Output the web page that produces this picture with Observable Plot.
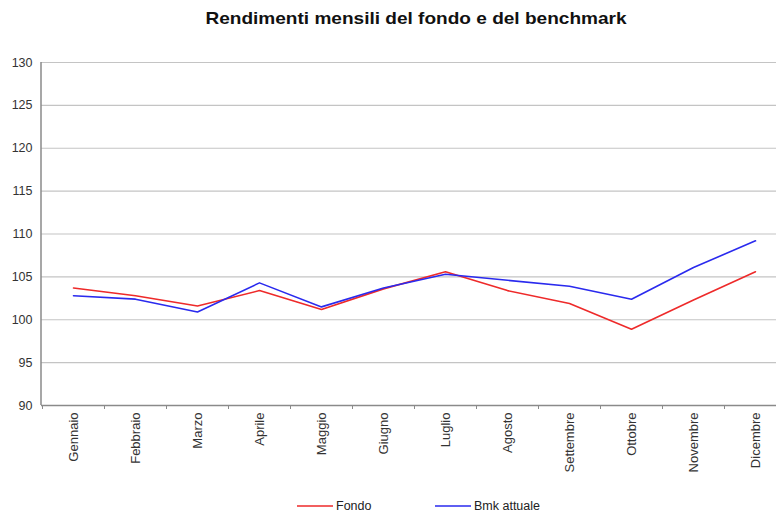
<!DOCTYPE html>
<html><head><meta charset="utf-8">
<script src="https://cdn.jsdelivr.net/npm/d3@7"></script>
<script src="https://cdn.jsdelivr.net/npm/@observablehq/plot@0.6"></script>
<style>
body{margin:0;background:#fff;font-family:"Liberation Sans",Arial,sans-serif;width:776px;height:512px;overflow:hidden;position:relative}
#title{position:absolute;left:216px;top:9px;width:400px;text-align:center;font-weight:bold;font-size:17px;color:#111;transform:scaleX(1.12);transform-origin:center;white-space:nowrap}
#chart{position:absolute;left:0;top:40px}
#legend{position:absolute;left:0;top:499px;width:776px;height:16px;font-size:12.5px;color:#222}
.li{position:absolute;top:0;display:flex;align-items:center}
</style></head><body>
<div id="title">Rendimenti mensili del fondo e del benchmark</div>
<div id="chart"></div>
<div id="legend"></div>
<script>
const months = ["Gennaio","Febbraio","Marzo","Aprile","Maggio","Giugno","Luglio","Agosto","Settembre","Ottobre","Novembre","Dicembre"];
const fondo = [103.7, 102.8, 101.6, 103.4, 101.2, 103.6, 105.6, 103.4, 101.9, 98.9, 102.3, 105.6];
const bmk = [102.8, 102.4, 100.9, 104.3, 101.5, 103.7, 105.3, 104.6, 103.9, 102.4, 106.1, 109.2];
const seriesNames = ["Fondo", "Bmk attuale"];
const seriesColors = ["#ee2a2a", "#2a2aee"];
const yTicks = [90, 95, 100, 105, 110, 115, 120, 125, 130];

const rows = [];
months.forEach((m, i) => {
  rows.push({month: m, value: fondo[i], series: seriesNames[0]});
  rows.push({month: m, value: bmk[i], series: seriesNames[1]});
});

const chart = Plot.plot({
  width: 776,
  height: 460,
  marginTop: 22,
  marginBottom: 95,
  marginLeft: 41,
  marginRight: 0,
  style: {fontFamily: "'Liberation Sans', Arial, sans-serif", background: "#fff"},
  x: {type: "band", domain: months, range: [41, 786], padding: 0, label: null},
  y: {domain: [90, 130], label: null},
  color: {domain: seriesNames, range: seriesColors},
  marks: [
    Plot.ruleY(yTicks.filter(t => t > 90), {stroke: "#c4c4c4", strokeWidth: 1.2}),
    Plot.ruleY([90], {stroke: "#8a8a8a", strokeWidth: 1.5}),
    Plot.ruleX(months, {x: d => d, y1: 90, y2: 90, insetBottom: -4, dx: -31, stroke: "#8a8a8a"}),
    Plot.axisY({ticks: yTicks, tickSize: 0, tickPadding: 9, fontSize: 12.5, color: "#333", label: null}),
    Plot.axisX({tickSize: 0, tickPadding: 7, tickRotate: -90, fontSize: 13, color: "#333", label: null}),
    Plot.line(rows, {x: "month", y: "value", z: "series", stroke: "series", strokeWidth: 1.6, curve: "linear"})
  ]
});
document.getElementById("chart").appendChild(chart);

// left axis line
d3.select(chart).append("line").attr("x1", 41).attr("x2", 41).attr("y1", 22).attr("y2", 365)
  .attr("stroke", "#8a8a8a").attr("stroke-width", 1.5);

const legend = document.getElementById("legend");
const lx = [297, 435];
seriesNames.forEach((n, i) => {
  const d = document.createElement("div");
  d.className = "li";
  d.style.left = lx[i] + "px";
  d.innerHTML = `<svg width="36" height="14"><line x1="0" x2="36" y1="7" y2="7" stroke="${seriesColors[i]}" stroke-width="1.6"/></svg><span style="margin-left:3px">${n}</span>`;
  legend.appendChild(d);
});
</script>
</body></html>
